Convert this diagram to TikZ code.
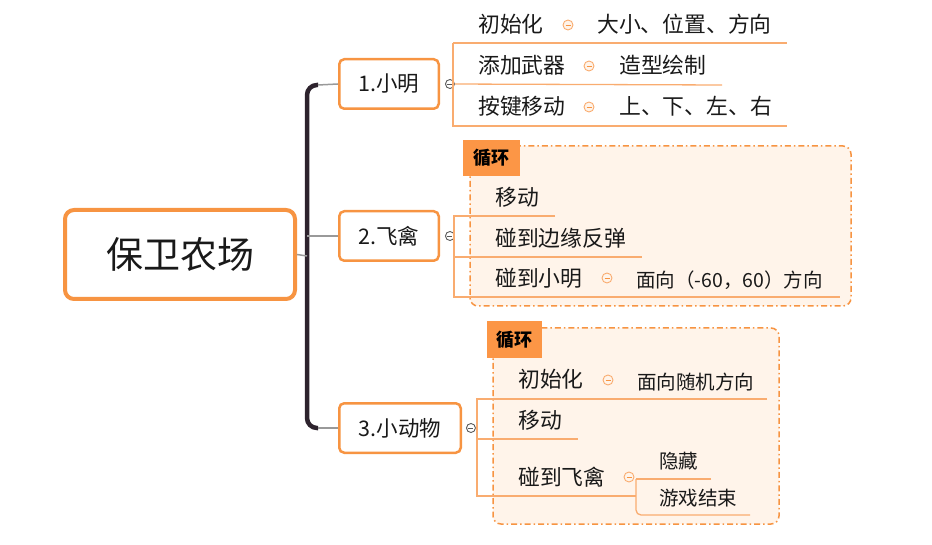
\documentclass[tikz,border=0pt]{standalone}
\usepackage{fontspec}
\setmainfont{Noto Sans CJK SC}
\usetikzlibrary{positioning}

\definecolor{mmorange}{RGB}{247,148,66}
\definecolor{mmline}{RGB}{249,172,112}
\definecolor{mmloop}{RGB}{255,244,234}
\definecolor{mmtag}{RGB}{252,150,70}
\definecolor{mmtrunk}{RGB}{45,35,45}
\definecolor{mmtext}{RGB}{25,25,25}

\begin{document}
\begin{tikzpicture}[x=1pt,y=-1pt,
  root node/.style={draw=mmorange,line width=4pt,rounded corners=9pt,fill=white,
    minimum width=230pt,minimum height=89pt,text=mmtext,font=\fontsize{37}{40}\selectfont},
  child node/.style={draw=mmorange,line width=2.5pt,rounded corners=5pt,fill=white,
    minimum width=99.5pt,minimum height=49.5pt,text=mmtext,font=\fontsize{21.5}{24}\selectfont},
  topic/.style={anchor=west,inner sep=0pt,text height=19.2pt,text depth=2.6pt,
    text=mmtext,font=\fontsize{21.8}{24}\selectfont},
  detail/.style={topic,text height=17.2pt,text depth=2.3pt,font=\fontsize{19.5}{22}\selectfont},
  fold/.style={circle,draw=gray!70!black,fill=white,line width=0.9pt,minimum size=9pt,inner sep=0pt,
    path picture={\draw[gray!70!black,line width=0.8pt] ([xshift=2pt]path picture bounding box.west)
      -- ([xshift=-2pt]path picture bounding box.east);}},
  subfold/.style={fold,draw=mmline,fill=mmloop,minimum size=10pt,
    path picture={\draw[mmorange,line width=0.8pt] ([xshift=2.5pt]path picture bounding box.west)
      -- ([xshift=-2.5pt]path picture bounding box.east);}},
  branch/.style={draw=mmline,line width=1.3pt},
  twig/.style={draw=gray!80,line width=1.5pt},
  trunk/.style={draw=mmtrunk,line width=4.5pt,rounded corners=10pt},
  loop frame/.style={draw=mmorange,fill=mmloop,line width=1.5pt,rounded corners=8pt,
    dash pattern=on 6pt off 3pt on 1.5pt off 3pt},
  loop tag/.style={fill=mmtag,anchor=north west,inner sep=0pt,text=black,
    font=\bfseries\fontsize{18}{20}\selectfont}]

  \useasboundingbox (0,0) rectangle (932,545);

  % loop frames
  \draw[loop frame] (470,146) rectangle (851,306);
  \draw[loop frame] (493,328) rectangle (779,524);
  \node[loop tag,minimum width=57pt,minimum height=36pt] (tag2) at (463,140) {循环};
  \node[loop tag,minimum width=55pt,minimum height=37pt] (tag3) at (487,321) {循环};

  % root and main topics
  \node[root node] (root) at (180,254.5) {保卫农场};
  \node[child node] (c1) at (389,84) {1.小明};
  \node[child node] (c2) at (389,236) {2.飞禽};
  \node[child node,minimum width=121.5pt] (c3) at (400,428) {3.小动物};
  \node[fold,right=5pt of c1] (f1) {};
  \node[fold,right=5pt of c2] (f2) {};
  \node[fold,right=4pt of c3] (f3) {};

  % trunk
  \coordinate (t1) at (318,85);
  \coordinate (t3) at (318,428);
  \draw[trunk] (t1) -- (307,85) -- (307,428) -- (t3);
  \draw[twig] (root.east) -- (307,256);
  \draw[twig] (t1) -- (c1.west);
  \draw[twig] (307,236) -- (c2.west);
  \draw[twig] (t3) -- (c3.west);

  % 1. 小明
  \draw[branch] (453,43) -- (787,43);
  \draw[branch] (453,43) -- (453,126) -- (787,126);
  \draw[branch] (f1) -- (722,85);
  \node[topic] (a1) at (478,24) {初始化};
  \node[subfold] (a1f) at (568,25) {};
  \node[topic] (a1d) at (597,24) {大小、位置、方向};
  \node[topic] (a2) at (478,65) {添加武器};
  \node[subfold] (a2f) at (589,66) {};
  \node[topic] (a2d) at (619,65) {造型绘制};
  \node[topic] (a3) at (478,106) {按键移动};
  \node[subfold] (a3f) at (589,107) {};
  \node[topic] (a3d) at (619,106) {上、下、左、右};

  % 2. 飞禽
  \draw[branch] (f2) -- (454,238);
  \draw[branch] (555,216) -- (454,216) -- (454,297) -- (840,297);
  \draw[branch] (454,257) -- (642,257);
  \node[topic] (b1) at (495,197) {移动};
  \node[topic] (b2) at (495,238) {碰到边缘反弹};
  \node[topic] (b3) at (495,278) {碰到小明};
  \node[subfold] (b3f) at (607,278) {};
  \node[detail] (b3d) at (636,280) {面向（-60，60）方向};

  % 3. 小动物
  \draw[branch] (f3) -- (477,429);
  \draw[branch] (767,399) -- (477,399) -- (477,496) -- (636,496);
  \draw[branch] (477,439) -- (578,439);
  \draw[branch] (711,479) -- (636,479);
  \draw[branch,rounded corners=5pt] (636,479) -- (636,515) -- (750,515);
  \node[topic] (d1) at (518,379) {初始化};
  \node[subfold] (d1f) at (608,380) {};
  \node[detail] (d1d) at (637,382) {面向随机方向};
  \node[topic] (d2) at (518,420) {移动};
  \node[topic] (d3) at (518,477) {碰到飞禽};
  \node[subfold] (d3f) at (629,477) {};
  \node[detail] (d3a) at (659,461) {隐藏};
  \node[detail] (d3b) at (659,498) {游戏结束};
\end{tikzpicture}
\end{document}
